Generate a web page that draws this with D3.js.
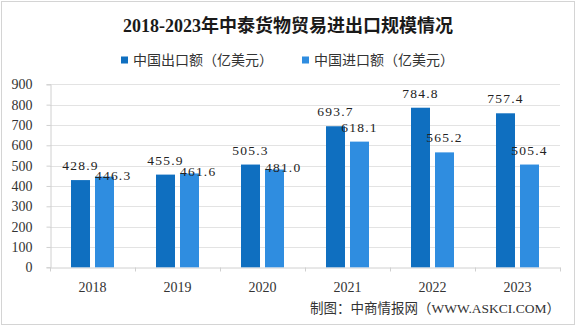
<!DOCTYPE html>
<html>
<head>
<meta charset="utf-8">
<script src="https://cdn.jsdelivr.net/npm/d3@7/dist/d3.min.js"></script>
<style>
  html, body { margin: 0; padding: 0; background: #fff; }
  svg { display: block; }
</style>
</head>
<body>
<svg id="chart" width="576" height="326"></svg>
<script>
// Thailand–China goods trade, 2018–2023 (USD 100 million)
const years = ["2018", "2019", "2020", "2021", "2022", "2023"];
const exportValues = [428.9, 455.9, 505.3, 693.7, 784.8, 757.4];
const importValues = [446.3, 461.6, 481.0, 618.1, 565.2, 505.4];
const seriesNames = ["中国出口额（亿美元）", "中国进口额（亿美元）"];
const seriesColors = ["#0f6fc0", "#2f8de0"];
const yTicks = [0, 100, 200, 300, 400, 500, 600, 700, 800, 900];

const svg = d3.select("#chart");
const W = 576, H = 326;
const latin = "'Liberation Serif', 'Noto Sans CJK SC', serif";
const cjk = "'Liberation Serif', 'Noto Sans CJK SC', sans-serif";

// frame
svg.append("rect")
  .attr("x", 1.5).attr("y", 1.5)
  .attr("width", W - 3).attr("height", H - 3)
  .attr("fill", "#fff").attr("stroke", "#d4d4d4").attr("stroke-width", 1);

// title
svg.append("text")
  .attr("x", 288).attr("y", 32)
  .attr("text-anchor", "middle")
  .attr("font-family", cjk)
  .attr("font-size", 18).attr("font-weight", "bold")
  .attr("fill", "#1a1a1a")
  .text("2018-2023年中泰货物贸易进出口规模情况");

// legend
const legendX = [121, 302];
seriesNames.forEach((name, i) => {
  const g = svg.append("g").attr("transform", `translate(${legendX[i]},60)`);
  g.append("rect").attr("x", 0).attr("y", -3.5).attr("width", 7).attr("height", 7)
    .attr("fill", seriesColors[i]);
  g.append("text").attr("x", 12).attr("y", 5)
    .attr("font-family", cjk).attr("font-size", 14).attr("fill", "#333")
    .text(name);
});

// scales
const plot = { left: 50, right: 560, top: 84.3, bottom: 267.3 };
const x0 = d3.scaleBand().domain(years).range([plot.left, plot.right]).padding(0);
const x1 = d3.scaleBand().domain(["exp", "imp"]).range([0, x0.bandwidth()])
  .paddingInner(5 / 24).paddingOuter(0.875);
const y = d3.scaleLinear().domain([0, 900]).range([plot.bottom, plot.top]);

// gridlines
svg.append("g")
  .selectAll("line").data(yTicks.filter(d => d > 0)).join("line")
  .attr("x1", plot.left).attr("x2", plot.right)
  .attr("y1", d => Math.round(y(d)) + 0.5).attr("y2", d => Math.round(y(d)) + 0.5)
  .attr("stroke", "#e3e3e3").attr("stroke-width", 1);

// y axis
const yAxis = svg.append("g")
  .attr("transform", `translate(${plot.left + 0.5},0)`)
  .call(d3.axisLeft(y).tickValues(yTicks).tickSize(4).tickPadding(14).tickFormat(d3.format("d")));
yAxis.select(".domain").attr("stroke", "#d0d0d0");
yAxis.selectAll(".tick line").attr("stroke", "#d0d0d0");
yAxis.selectAll(".tick text")
  .attr("font-family", latin).attr("font-size", 14).attr("fill", "#333");

// x axis
const xAxis = svg.append("g")
  .attr("transform", `translate(0,${Math.round(plot.bottom) + 0.5})`)
  .call(d3.axisBottom(x0).tickSize(0).tickPadding(15));
xAxis.select(".domain").attr("stroke", "#d0d0d0");
xAxis.selectAll(".tick text")
  .attr("font-family", latin).attr("font-size", 14).attr("fill", "#333");
// category boundary ticks
xAxis.selectAll("line.boundary")
  .data(years.map(d => x0(d)).concat([plot.right])).join("line")
  .attr("class", "boundary")
  .attr("x1", d => Math.round(d) + 0.5).attr("x2", d => Math.round(d) + 0.5)
  .attr("y1", 0).attr("y2", 4)
  .attr("stroke", "#d0d0d0");

// bars
const rows = years.map((yr, i) => [
  { year: yr, key: "exp", value: exportValues[i], other: importValues[i], color: seriesColors[0] },
  { year: yr, key: "imp", value: importValues[i], other: exportValues[i], color: seriesColors[1] }
]).flat();

svg.append("g").selectAll("rect").data(rows).join("rect")
  .attr("x", d => x0(d.year) + x1(d.key))
  .attr("y", d => y(d.value))
  .attr("width", x1.bandwidth())
  .attr("height", d => y(0) - y(d.value))
  .attr("fill", d => d.color);

// value labels: centred above each bar; when the pair of bars is nearly
// level, the import label slides right and down so both stay readable
const crowded = d => Math.abs(y(d.value) - y(d.other)) < 12;
svg.append("g").selectAll("text").data(rows).join("text")
  .attr("x", d => (d.key === "imp" && crowded(d))
    ? x0(d.year) + x1(d.key)
    : x0(d.year) + x1(d.key) + x1.bandwidth() / 2)
  .attr("y", d => (d.key === "imp" && crowded(d)) ? y(d.value) + 3 : y(d.value) - 10)
  .attr("text-anchor", d => (d.key === "imp" && crowded(d)) ? "start" : "middle")
  .attr("font-family", latin).attr("font-size", 13.5)
  .attr("letter-spacing", 1.2)
  .attr("fill", "#222")
  .text(d => d.value.toFixed(1));

// source note
svg.append("text")
  .attr("x", 560).attr("y", 313)
  .attr("text-anchor", "end")
  .attr("font-family", cjk).attr("font-size", 13.5).attr("fill", "#333")
  .text("制图：中商情报网（WWW.ASKCI.COM）");
</script>
</body>
</html>
